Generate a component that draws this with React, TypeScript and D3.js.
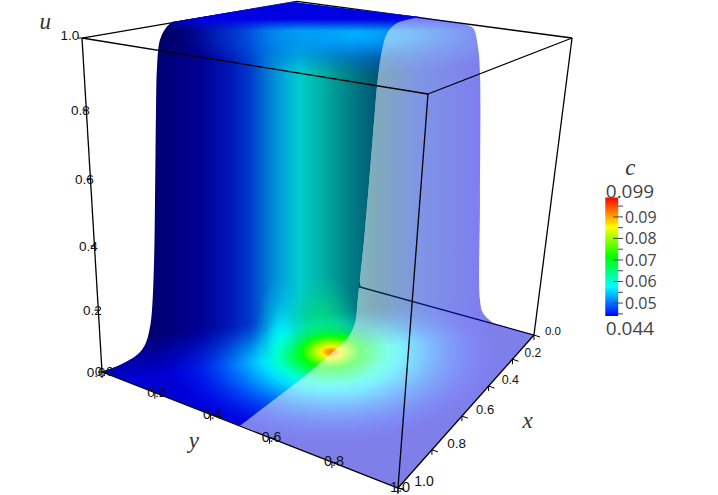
import React from "react";
import * as d3 from "d3";

// ---- colour bar ----
const barRange = [0.044, 0.099];
const majorTicks = [0.05, 0.06, 0.07, 0.08, 0.09];
const minorTicks = [0.045, 0.055, 0.065, 0.075, 0.085, 0.095];
const jetC = [0.044, 0.0577, 0.0715, 0.0853, 0.099];
const jetColors = ["#0000ff", "#00ffff", "#00ff00", "#ffff00", "#ff0000"];

// ---- axes ----
const axisTicks = [0, 0.2, 0.4, 0.6, 0.8, 1];

// ---- outlines, in % of the frame ----
const leftOutlineU = [14.35, 16.71, 19.08, 20.19, 20.89, 21.17, 21.45, 21.59, 21.73, 21.87, 22.28, 23.12, 23.96];
const leftOutlineV = [75.15, 73.74, 71.72, 69.7, 66.06, 62.63, 53.13, 40.4, 22.22, 13.54, 8.08, 5.66, 4.44];
const ridgeU = [40.81, 48.75, 58.5];
const ridgeV = [0.4, 1.82, 3.43];
const rightOutlineU = [64.48, 65.88, 66.57, 66.85, 66.85, 66.85, 67.27, 68.66];
const rightOutlineV = [4.85, 5.66, 9.49, 14.75, 40.4, 60.61, 63.23, 65.25];
const cutU = [33.43, 42.2, 47.35, 48.47, 49.44, 49.86, 50.84, 52.23, 52.5, 53.2, 53.9, 55.29, 58.5];
const cutV = [85.96, 76.16, 69.7, 68.08, 65.25, 60, 46.46, 22.22, 17.58, 10.1, 6.67, 4.65, 3.43];

// ---- c and shading along the tall wall (s = position across the wall) ----
const wallS = [0.006, 0.06, 0.14, 0.23, 0.29, 0.35, 0.4, 0.446, 0.51, 0.57, 0.63, 0.68, 0.815, 0.994];
const wallC = [0.044, 0.044, 0.044, 0.0457, 0.0477, 0.052, 0.0548, 0.0577, 0.0585, 0.0577, 0.056, 0.054, 0.047, 0.044];
const wallLight = [0.45, 0.5, 0.58, 0.72, 0.8, 0.84, 0.85, 0.8, 0.7, 0.56, 0.5, 0.47, 0.8, 0.88];

// ---- c around the peak on the floor (r = radial fraction) ----
const glowR = [0, 0.03, 0.055, 0.09, 0.17, 0.33, 0.42, 0.55, 0.78, 1];
const glowC = [0.092, 0.09, 0.086, 0.081, 0.071, 0.06, 0.056, 0.052, 0.047, 0.044];
const glowAlpha = [1, 1, 1, 1, 1, 1, 1, 0.95, 0.6, 0];

const W = 718, H = 495;
const fx = d3.scaleLinear([0, 100], [0, W]);
const fy = d3.scaleLinear([0, 100], [0, H]);

const colorOf = d3.scaleLinear<string>().domain(jetC).range(jetColors).interpolate(d3.interpolateRgb);
const shade = (c: number, l: number) => {
  const k = d3.rgb(colorOf(c));
  return d3.rgb(k.r * l, k.g * l, k.b * l).formatRgb();
};
const barY = d3.scaleLinear(barRange, [316, 197.5]);

type P = [number, number];
const pt = (u: number, v: number): P => [fx(u), fy(v)];
const zip = (a: number[], b: number[]) => a.map((u, i) => pt(u, b[i]));
const line = d3.line();
const smooth = d3.line().curve(d3.curveCatmullRom.alpha(0.5));
const cont = (pts: P[]) => (smooth(pts) ?? "").replace(/^M/, "L");
const straight = (pts: P[]) => pts.map((p) => "L" + p.join(",")).join("");

// box corners in % of the frame
const TL = pt(11.42, 7.68), TF = pt(59.61, 18.99), TR = pt(79.67, 7.68), TB = pt(41.36, 0.28);
const BL = pt(14.21, 75.15), BF = pt(55.43, 98.59), BR = pt(74.37, 67.68), BB = pt(50.14, 57.98);

const along = (a: P, b: P, k: number) => (t: number): P => {
  const f = t / (t + k * (1 - t));
  return [a[0] + (b[0] - a[0]) * f, a[1] + (b[1] - a[1]) * f];
};
const zAxis = along(BL, TL, 1.1);
const yAxis = along(BL, BF, 1.15);
const xAxis = along(BR, BF, 1.33);
const fmt = d3.format(".1f");
const AX = "'Liberation Sans', sans-serif";
const TITLE = "'Liberation Serif', serif";
const LAB = "'Open Sans', sans-serif";

function Field() {
  return (
    <g>
      <rect width={W} height={H} fill="url(#wall)" />
      <rect width={W} height={H} fill="url(#greenStreak)" />
      <rect width={W} height={H} fill="url(#cyanStreak)" />
      <rect width={W} height={H} fill="url(#band)" />
      <rect width={W} height={H} fill="url(#topCover)" />
      <rect width={W} height={H} fill="url(#cornerShade)" />
      <g mask="url(#floorMask)">
        <rect width={W} height={H} fill={shade(0.044, 0.83)} />
        <rect width={W} height={H} fill="url(#glow)" />
      </g>
      <rect width={W} height={H} fill="url(#hot)" />
    </g>
  );
}

export default function App() {
  const left = zip(leftOutlineU, leftOutlineV);
  const ridge = zip(ridgeU, ridgeV);
  const right = zip(rightOutlineU, rightOutlineV);
  const cut = zip(cutU, cutV);
  const top = ridge[ridge.length - 1];
  const opaqueD = smooth(left) + straight(ridge) + cont(cut.slice().reverse()) + "Z";
  const glassD =
    "M" + top.join(",") + "L" + right[0].join(",") + cont(right) +
    "L" + BR.join(",") + "L" + BF.join(",") + cont(cut) + "Z";
  const cx = fx(46.1), cy = fy(71.1);
  const R = fx(23.7);
  return (
    <svg width={W} height={H} style={{ position: "absolute", left: 0, top: 0, background: "#fff" }}>
      <defs>
        <clipPath id="opaqueClip"><path d={opaqueD} /></clipPath>
        <clipPath id="glassClip"><path d={glassD} /></clipPath>
        <linearGradient id="wall" gradientUnits="userSpaceOnUse" x1={fx(21.59)} x2={fx(66.85)} y1={0} y2={0}>
          {wallS.map((s, i) => <stop key={i} offset={s} stopColor={shade(wallC[i], wallLight[i])} />)}
        </linearGradient>
        <linearGradient id="topCover" gradientUnits="userSpaceOnUse" x1={0} x2={0} y1={fy(1.5)} y2={fy(6.2)}>
          <stop offset={0} stopColor={shade(0.044, 0.88)} />
          <stop offset={0.5} stopColor={shade(0.044, 0.9)} stopOpacity={1} />
          <stop offset={1} stopColor={shade(0.0445, 0.95)} stopOpacity={0} />
        </linearGradient>
        <radialGradient id="cornerShade" gradientUnits="userSpaceOnUse" cx={0} cy={0} r={1}
          gradientTransform={`translate(${fx(22)},${fy(6.5)}) scale(${fx(6.5)},${fy(6)})`}>
          <stop offset={0} stopColor="#000050" stopOpacity={0.55} />
          <stop offset={1} stopColor="#000050" stopOpacity={0} />
        </radialGradient>
        <radialGradient id="band" gradientUnits="userSpaceOnUse" cx={0} cy={0} r={1}
          gradientTransform={`translate(${fx(49.5)},${fy(7)}) scale(${fx(24)},${fy(8)})`}>
          <stop offset={0} stopColor={shade(0.0535, 1)} stopOpacity={1} />
          <stop offset={0.3} stopColor={shade(0.052, 1)} stopOpacity={0.85} />
          <stop offset={0.65} stopColor={shade(0.05, 0.95)} stopOpacity={0.4} />
          <stop offset={1} stopColor={shade(0.05, 0.9)} stopOpacity={0} />
        </radialGradient>
        <radialGradient id="greenStreak" gradientUnits="userSpaceOnUse" cx={0} cy={0} r={1}
          gradientTransform={`translate(${fx(44.8)},${fy(70.7)}) scale(${fx(6)},${fy(15)})`}>
          <stop offset={0} stopColor={shade(0.067, 0.95)} stopOpacity={1} />
          <stop offset={0.5} stopColor={shade(0.064, 0.88)} stopOpacity={0.7} />
          <stop offset={1} stopColor={shade(0.061, 0.8)} stopOpacity={0} />
        </radialGradient>
        <radialGradient id="cyanStreak" gradientUnits="userSpaceOnUse" cx={0} cy={0} r={1}
          gradientTransform={`translate(${fx(39.2)},${fy(70)}) scale(${fx(3.8)},${fy(14)})`}>
          <stop offset={0} stopColor={shade(0.0577, 1)} stopOpacity={1} />
          <stop offset={0.3} stopColor={shade(0.0577, 1)} stopOpacity={0.7} />
          <stop offset={0.6} stopColor={shade(0.0577, 0.97)} stopOpacity={0.25} />
          <stop offset={1} stopColor={shade(0.0577, 0.95)} stopOpacity={0} />
        </radialGradient>
        <radialGradient id="glow" gradientUnits="userSpaceOnUse" cx={0} cy={0} r={1}
          gradientTransform={`translate(${cx},${cy}) scale(${R},${R * 0.55})`}>
          {glowR.map((r, i) => <stop key={i} offset={r} stopColor={shade(glowC[i], 1)} stopOpacity={glowAlpha[i]} />)}
        </radialGradient>
        <radialGradient id="hot" gradientUnits="userSpaceOnUse" cx={0} cy={0} r={1}
          gradientTransform={`translate(${cx},${cy}) scale(${R * 0.22},${R * 0.22 * 0.55})`}>
          {glowR.filter(r => r <= 0.17).map((r, i) => <stop key={i} offset={r / 0.22} stopColor={shade(glowC[i], 1)} stopOpacity={1} />)}
          <stop offset={1} stopColor={shade(0.067, 1)} stopOpacity={0} />
        </radialGradient>
        <linearGradient id="floorFade" gradientUnits="userSpaceOnUse" x1={fx(41.8)} y1={fy(64)} x2={fx(42.5)} y2={fy(72)}>
          <stop offset={0} stopColor="#fff" stopOpacity={0} />
          <stop offset={1} stopColor="#fff" stopOpacity={1} />
        </linearGradient>
        <mask id="floorMask" maskUnits="userSpaceOnUse" x={0} y={0} width={W} height={H}>
          <rect width={W} height={H} fill="url(#floorFade)" />
        </mask>
        <linearGradient id="barFill" gradientUnits="userSpaceOnUse" x1={0} x2={0} y1={barY(barRange[0])} y2={barY(barRange[1])}>
          {jetC.map((c, i) => (
            <stop key={i} offset={(c - barRange[0]) / (barRange[1] - barRange[0])} stopColor={jetColors[i]} />
          ))}
        </linearGradient>
      </defs>

      {/* edges behind the surface */}
      <g stroke="#000" strokeWidth={1.3} fill="none">
        <path d={line([TL, TB]) ?? ""} />
        <path d={line([TB, TR]) ?? ""} />
        <path d={line([BL, BB]) ?? ""} />
        <path d={line([BB, BR]) ?? ""} />
        <path d={line([BB, TB]) ?? ""} />
      </g>

      <g clipPath="url(#opaqueClip)"><Field /></g>
      <g clipPath="url(#glassClip)" opacity={0.5}><Field /></g>

      {/* edges in front */}
      <g stroke="#000" strokeWidth={1.3} fill="none">
        <path d={line([TL, TF]) ?? ""} />
        <path d={line([TF, TR]) ?? ""} />
        <path d={line([TL, BL]) ?? ""} />
        <path d={line([TF, BF]) ?? ""} />
        <path d={line([TR, BR]) ?? ""} />
        <path d={line([BL, BF]) ?? ""} />
        <path d={line([BF, BR]) ?? ""} />
      </g>

      {/* z axis */}
      {axisTicks.map((t) => {
        const [a, b] = zAxis(t);
        const dx = t === 1 ? -12 : -6;
        return (
          <g key={`z${t}`}>
            <line x1={a} y1={b} x2={a - 4} y2={b} stroke="#000" />
            <text x={a + dx} y={b + (t === 1 ? -3 : 0)} dy="0.36em" textAnchor="middle" fontFamily={AX} fontSize={13.5} fill="#111">{fmt(t)}</text>
          </g>
        );
      })}
      {/* y axis */}
      {axisTicks.map((t) => {
        const [a, b] = yAxis(t);
        return (
          <g key={`y${t}`} stroke="#000">
            <line x1={a} y1={b} x2={a} y2={b + 6} />
            <line x1={a} y1={b} x2={a + 6} y2={b + 1} />
            <text x={a + 2} y={b - 1} dy="0.36em" textAnchor="middle" fontFamily={AX} fontSize={13.5 + t} fill="#111" stroke="none">{fmt(t)}</text>
          </g>
        );
      })}
      {/* x axis */}
      {axisTicks.map((t) => {
        const [a, b] = xAxis(t);
        return (
          <g key={`x${t}`} stroke="#000">
            <line x1={a} y1={b} x2={a} y2={b + 5} />
            <line x1={a} y1={b} x2={a + 6} y2={b + 2} />
            <text x={a + 19 + 7 * t} y={b + (t === 0 ? -4 : -7)} dy="0.36em" textAnchor="middle" fontFamily={AX} fontSize={11.5 + 2.5 * t} fill="#111" stroke="none">{fmt(t)}</text>
          </g>
        );
      })}

      {/* titles */}
      <g fontFamily={TITLE} fontStyle="italic" fontSize={23} fill="#333" textAnchor="middle">
        <text x={fx(6.3)} y={fy(5.8)}>u</text>
        <text x={fx(73.5)} y={fy(86.5)}>x</text>
        <text x={fx(27)} y={fy(90.6)}>y</text>
        <text x={fx(87.8)} y={fy(35.3)}>c</text>
      </g>

      {/* colour bar */}
      <rect x={fx(84.3)} y={barY(barRange[1])} width={fx(1.8)} height={barY(barRange[0]) - barY(barRange[1])} fill="url(#barFill)" />
      {majorTicks.map((t) => (
        <g key={t}>
          <line x1={613} x2={623} y1={barY(t)} y2={barY(t)} stroke="#444" />
          <text x={625} y={barY(t)} dy="0.36em" fontFamily={LAB} fontSize={16} fill="#444">{d3.format(".2f")(t)}</text>
        </g>
      ))}
      {minorTicks.map((t) => (
        <line key={t} x1={618} x2={623} y1={barY(t)} y2={barY(t)} stroke="#444" />
      ))}
      <text x={630} y={198} textAnchor="middle" fontFamily={LAB} fontSize={19} fill="#444">0.099</text>
      <text x={630} y={335} textAnchor="middle" fontFamily={LAB} fontSize={19} fill="#444">0.044</text>
    </svg>
  );
}
